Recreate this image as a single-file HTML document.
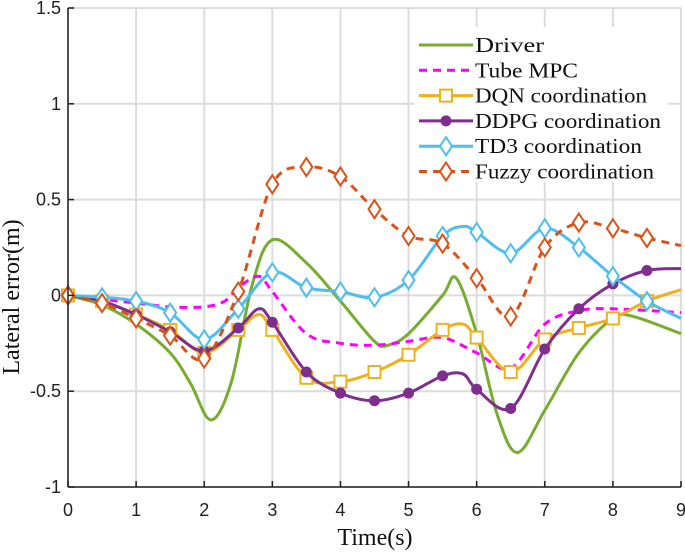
<!DOCTYPE html>
<html><head><meta charset="utf-8"><style>
body{margin:0;background:#fff;}
svg text{font-family:"Liberation Sans",Arial,sans-serif;}
.serif{font-family:"Liberation Serif","Times New Roman",serif;}
</style></head><body>
<svg id="chart" width="685" height="551" viewBox="0 0 685 551" xmlns="http://www.w3.org/2000/svg"></svg>
<script>
const xTicks=[0,1,2,3,4,5,6,7,8,9];
const yTicks=[-1,-0.5,0,0.5,1,1.5];
const yTickLabels=["-1","-0.5","0","0.5","1","1.5"];
const seriesNames=["Driver","Tube MPC","DQN coordination","DDPG coordination","TD3 coordination","Fuzzy coordination"];
const driverT=[0,0.5,1,1.5,1.8,2.1,2.4,2.7,3,3.5,4,4.5,4.7,5,5.5,5.7,6,6.3,6.6,7,7.5,8,8.3,9];
const driverV=[0,-0.05,-0.15,-0.3,-0.46,-0.65,-0.45,0.05,0.29,0.17,-0.03,-0.24,-0.26,-0.2,0,0.09,-0.2,-0.62,-0.82,-0.6,-0.3,-0.12,-0.11,-0.2];
const mpcT=[0,0.5,1,1.5,2,2.3,2.5,2.8,3,3.5,4,4.5,5,5.5,6,6.5,7,7.5,8,9];
const mpcV=[0,-0.02,-0.04,-0.06,-0.06,-0.03,0.04,0.1,0.02,-0.2,-0.25,-0.26,-0.24,-0.22,-0.3,-0.38,-0.15,-0.08,-0.07,-0.09];
const dqnT=[0,0.5,1,1.5,2,2.5,2.8,3,3.5,4,4.5,5,5.5,5.8,6,6.5,7,7.5,8,8.5,9];
const dqnV=[0,-0.03,-0.1,-0.18,-0.3,-0.18,-0.1,-0.18,-0.43,-0.45,-0.4,-0.31,-0.18,-0.15,-0.22,-0.4,-0.23,-0.17,-0.12,-0.03,0.03];
const ddpgT=[0,0.5,1,1.5,2,2.5,2.8,3,3.5,4,4.5,5,5.5,5.8,6,6.5,7,7.5,8,8.5,9];
const ddpgV=[0,-0.03,-0.1,-0.19,-0.29,-0.17,-0.07,-0.14,-0.4,-0.51,-0.55,-0.51,-0.42,-0.41,-0.49,-0.59,-0.28,-0.07,0.06,0.13,0.14];
const td3T=[0,0.5,1,1.5,2,2.5,3,3.5,4,4.5,5,5.5,5.8,6,6.5,7,7.5,8,8.5,9];
const td3V=[0,-0.01,-0.03,-0.09,-0.23,-0.07,0.12,0.04,0.02,-0.01,0.08,0.31,0.36,0.33,0.22,0.35,0.25,0.1,-0.03,-0.12];
const fuzzyT=[0,0.5,1,1.5,2,2.5,3,3.5,4,4.5,5,5.5,6,6.5,7,7.5,8,8.5,9];
const fuzzyV=[0,-0.04,-0.12,-0.21,-0.33,0.02,0.58,0.67,0.62,0.45,0.31,0.27,0.09,-0.11,0.25,0.38,0.35,0.3,0.26];

const X0=68,X1=681,Y0=487,Y1=8;
const sx=t=>X0+(t-0)/(9-0)*(X1-X0);
const sy=v=>Y0-(v-(-1))/(1.5-(-1))*(Y0-Y1);
const NS="http://www.w3.org/2000/svg";
const svg=document.getElementById('chart');
function mk(tag,attrs,parent){const e=document.createElementNS(NS,tag);for(const k in attrs)e.setAttribute(k,attrs[k]);(parent||svg).appendChild(e);return e;}

const grid=mk('g',{});


xTicks.forEach(t=>{mk('line',{x1:sx(t),x2:sx(t),y1:Y1,y2:Y0,stroke:'#dcdcdc','stroke-width':2},grid);});
yTicks.forEach(v=>{mk('line',{x1:X0,x2:X1,y1:sy(v),y2:sy(v),stroke:'#dcdcdc','stroke-width':2},grid);});

function pathFor(T,V){
  const p=T.map((t,i)=>[sx(t),sy(V[i])]);
  let d='M'+p[0][0]+','+p[0][1];
  for(let i=0;i<p.length-1;i++){
    const a=p[Math.max(0,i-1)],b=p[i],c=p[i+1],e=p[Math.min(p.length-1,i+2)];
    const c1=[b[0]+(c[0]-a[0])/6,b[1]+(c[1]-a[1])/6];
    const c2=[c[0]-(e[0]-b[0])/6,c[1]-(e[1]-b[1])/6];
    d+=' C'+c1+' '+c2+' '+c;
  }
  return d;
}
function marker(g,type,x,y,color){
  if(type==='square'){mk('rect',{x:x-6,y:y-6,width:12,height:12,fill:'#fff',stroke:color,'stroke-width':2},g);}
  else if(type==='star'){mk('circle',{cx:x,cy:y,r:5,fill:color,stroke:color,'stroke-width':1},g);}
  else if(type==='diamond'){mk('path',{d:`M${x},${y-9} L${x+6},${y} L${x},${y+9} L${x-6},${y} Z`,fill:'#fff',stroke:color,'stroke-width':2},g);}
}
const series=[
 {T:driverT,V:driverV,color:'#77ac30',dash:null,m:null,name:'series-driver'},
 {T:mpcT,V:mpcV,color:'#ff00ff',dash:'8,6',m:null,name:'series-tube-mpc'},
 {T:dqnT,V:dqnV,color:'#edb120',dash:null,m:'square',name:'series-dqn'},
 {T:ddpgT,V:ddpgV,color:'#7e2f8e',dash:null,m:'star',name:'series-ddpg'},
 {T:td3T,V:td3V,color:'#4dbeee',dash:null,m:'diamond',name:'series-td3'},
 {T:fuzzyT,V:fuzzyV,color:'#d95319',dash:'8,6',m:'diamond',name:'series-fuzzy'}
];
series.forEach(s=>{
  const g=mk('g',{});
  
  
  const a={d:pathFor(s.T,s.V),fill:'none',stroke:s.color,'stroke-width':3};
  if(s.dash)a['stroke-dasharray']=s.dash;
  mk('path',a,g);
  if(s.m){s.T.forEach((t,i)=>{if(Math.abs(t*2-Math.round(t*2))<1e-9&&t<9)marker(g,s.m,sx(t),sy(s.V[i]),s.color);});}
});

const ax=mk('g',{});


mk('line',{x1:X0,x2:X0,y1:Y1,y2:Y0,stroke:'#222','stroke-width':1.5},ax);
mk('line',{x1:X0,x2:X1,y1:Y0,y2:Y0,stroke:'#222','stroke-width':1.5},ax);
xTicks.forEach(t=>{
  mk('line',{x1:sx(t),x2:sx(t),y1:Y0,y2:Y0-6,stroke:'#222','stroke-width':1.5},ax);
  const tx=mk('text',{x:sx(t),y:516,'text-anchor':'middle','font-size':18,fill:'#222'},ax);tx.textContent=t;
});
yTicks.forEach((v,i)=>{
  mk('line',{x1:X0,x2:X0+6,y1:sy(v),y2:sy(v),stroke:'#222','stroke-width':1.5},ax);
  const tx=mk('text',{x:X0-7,y:sy(v)+6,'text-anchor':'end','font-size':18,fill:'#222'},ax);tx.textContent=yTickLabels[i];
});
const xl=mk('text',{x:375,y:545,'text-anchor':'middle','font-size':24,fill:'#111',class:'serif'});


xl.textContent='Time(s)';
const yl=mk('text',{x:0,y:0,'text-anchor':'middle','font-size':24,fill:'#111',class:'serif',transform:'translate(19,297) rotate(-90)'});


yl.textContent='Lateral error(m)';

const legendTextWidths=[69,103,172,186,167,179];
const lg=mk('g',{});


mk('rect',{x:414,y:27,width:254,height:155,fill:'#fff'},lg);
series.forEach((s,i)=>{
  const y=40+i*25.3;
  const e=mk('g',{},lg);
  
  
  const a={x1:419,x2:473,y1:y+5,y2:y+5,stroke:s.color,'stroke-width':3};
  if(s.dash)a['stroke-dasharray']='8,6';
  mk('line',a,e);
  if(s.m)marker(e,s.m,446,y+5,s.color);
  const tx=mk('text',{x:475,y:y+12,'font-size':21,fill:'#111',class:'serif',textLength:legendTextWidths[i],lengthAdjust:'spacingAndGlyphs'},e);tx.textContent=seriesNames[i];
});
</script>
</body></html>
